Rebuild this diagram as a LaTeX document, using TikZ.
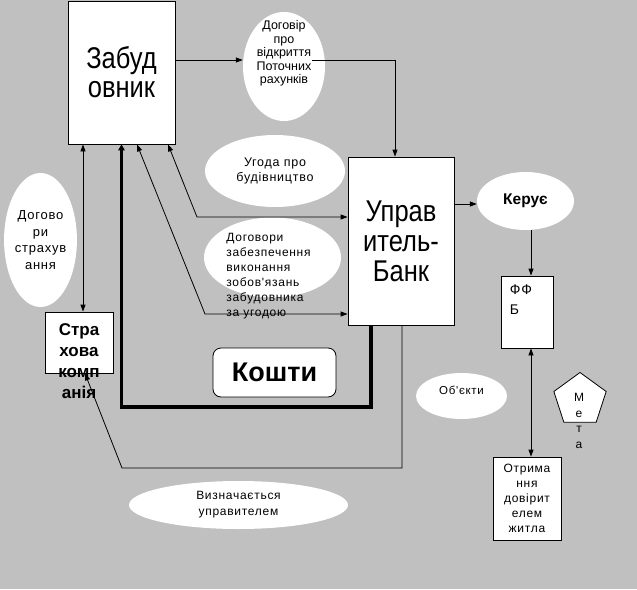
\documentclass[tikz,border=0pt]{standalone}
\usepackage{fontspec}
\setmainfont{Liberation Sans}
\newfontfamily\tallfont[FakeStretch=0.85]{Liberation Sans}
\newfontfamily\spacedfont[LetterSpace=6]{Liberation Sans}
\usetikzlibrary{shapes,arrows.meta,positioning,calc}
\definecolor{silvergray}{RGB}{192,192,192}

\begin{document}
\begin{tikzpicture}[x=1pt, y=-1pt,
    box/.style={draw=black, line width=0.8pt, fill=white, inner sep=0pt, align=center},
    oval/.style={ellipse, fill=white, inner sep=0pt, align=center},
    txt/.style={font=\spacedfont\fontsize{12}{15}\selectfont, align=center},
    tip/.style={-{Triangle[length=7pt,width=5pt]}},
    tips/.style={{Triangle[length=7pt,width=5pt]}-{Triangle[length=7pt,width=5pt]}},
    link/.style={line width=0.8pt},
    money/.style={line width=3.6pt, -{Triangle[length=6pt,width=6.5pt]}}]
    \fill[silvergray] (0,0) rectangle (637,589);

    % ellipses
    \node[oval, minimum width=82pt, minimum height=109pt,
        label={[align=center, font=\fontsize{12.5}{13.5}\selectfont, yshift=13pt]center:Договір\\про\\відкриття\\Поточних\\рахунків}] (dogovir) at (284,66.5) {};
    \node[oval, minimum width=140pt, minimum height=72pt, txt, font=\spacedfont\fontsize{12.5}{15.5}\selectfont] (ugoda) at (275,171) {Угода про\\будівництво};
    \node[oval, minimum width=137pt, minimum height=80pt,
        label={[txt, align=left, xshift=-4pt, yshift=-19pt]center:Договори\\забезпечення\\виконання\\зобов'язань\\забудовника\\за угодою}] (zabezp) at (272.5,257.5) {};
    \node[oval, minimum width=65pt, minimum height=134pt, txt, font=\spacedfont\fontsize{13}{16.5}\selectfont] (strahdog) at (40.5,240) {Догово\\ри\\страхув\\ання};
    \node[oval, minimum width=219pt, minimum height=48pt, txt, font=\spacedfont\fontsize{12}{16}\selectfont] (vyzn) at (238.5,505) {Визначається\\управителем};
    \node[oval, minimum width=91pt, minimum height=46pt,
        label={[txt, font=\spacedfont\fontsize{11.5}{15}\selectfont, yshift=6pt]center:Об'єкти}] (obj) at (461.5,396) {};
    \node[oval, minimum width=97pt, minimum height=58pt, font=\bfseries\fontsize{15.5}{17}\selectfont] (keruye) at (525.5,201) {Керує};

    % boxes
    \node[box, minimum width=107pt, minimum height=143pt, font=\tallfont\fontsize{30}{29}\selectfont] (zab) at (121.5,72.5) {Забуд\\овник};
    \node[box, minimum width=106pt, minimum height=168pt, font=\tallfont\fontsize{30}{30}\selectfont] (upr) at (401,241) {Управ\\итель-\\Банк};
    \node[box, minimum width=68pt, minimum height=61pt] (strah) at (79,342.5) {};
    \node[font=\bfseries\fontsize{17}{21}\selectfont, align=center] (strahtxt) at (79,361.5) {Стра\\хова\\комп\\анія};
    \node[box, minimum width=52pt, minimum height=72pt,
        label={[anchor=north west, inner sep=0pt, align=left, xshift=9pt, yshift=-9pt, font=\spacedfont\fontsize{14}{20}\selectfont]north west:ФФ\\Б}] (ffb) at (527,312) {};
    \node[box, minimum width=68pt, minimum height=83pt, font=\spacedfont\fontsize{12}{15}\selectfont] (otr) at (527,498.5) {Отрима\\ння\\довірит\\елем\\житла};
    \node[box, rounded corners=8pt, minimum width=123pt, minimum height=49pt, font=\bfseries\fontsize{27}{30}\selectfont] (koshty) at (274.5,372.5) {Кошти};
    \node[draw=black, line width=0.8pt, fill=white, regular polygon, regular polygon sides=5, minimum size=55pt, inner sep=0pt] (meta) at (580,400) {};
    \node[txt, font=\spacedfont\fontsize{12}{15.5}\selectfont] (metatxt) at (579,421) {М\\е\\т\\а};

    % connectors
    \coordinate (bendA) at (197,217);
    \coordinate (bendB) at (205,314);
    \coordinate (bendC) at (121.5,407);
    \coordinate (bendD) at (122,468);
    \draw[link, tip] ([yshift=12.5pt]zab.east) -- ([yshift=12.5pt]zab.east -| dogovir.west);
    \draw[link, tip] ($(dogovir.center)+(28,-6)$) -| ([xshift=-6pt]upr.north);
    \draw[link, tips] ([xshift=46.5pt]zab.south) -- (bendA) -- (bendA -| upr.west);
    \draw[link, tips] ([xshift=15.5pt]zab.south) -- (bendB) -- (bendB -| upr.west);
    \draw[money] ([xshift=-30pt]upr.south) |- (bendC) -- (zab.south);
    \draw[link, tips] ([xshift=4pt]strah.north) -- ([xshift=4pt]strah.north |- zab.south);
    \draw[link, tip] ([xshift=1pt]upr.south) |- (bendD) -- ([xshift=6pt]strah.south);
    \draw[link, tip] ([yshift=-3pt]keruye.west -| upr.east) -- ([yshift=-3pt]keruye.west);
    \draw[link, tip] ([xshift=4pt]ffb.north |- keruye.south) -- ([xshift=4pt]ffb.north);
    \draw[link, tips] ([xshift=4pt]ffb.south) -- ([xshift=4pt]otr.north);
\end{tikzpicture}
\end{document}
